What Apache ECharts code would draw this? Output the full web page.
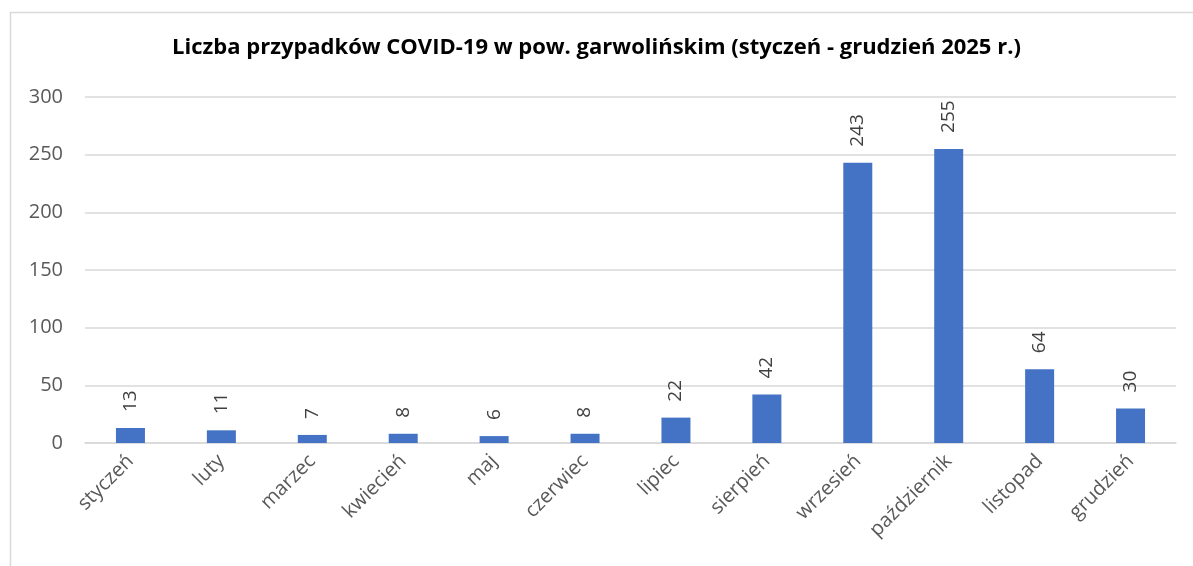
<!DOCTYPE html>
<html>
<head>
<meta charset="utf-8">
<script src="https://cdn.jsdelivr.net/npm/echarts@6/dist/echarts.min.js"></script>
<style>
html, body { margin: 0; padding: 0; background: #fff; }
#main { width: 1193px; height: 566px; }
</style>
</head>
<body>
<div id="main"></div>
<script>
var months = ['styczeń', 'luty', 'marzec', 'kwiecień', 'maj', 'czerwiec', 'lipiec', 'sierpień', 'wrzesień', 'październik', 'listopad', 'grudzień'];
var cases = [13, 11, 7, 8, 6, 8, 22, 42, 243, 255, 64, 30];

var myChart = echarts.init(document.getElementById('main'));
var fontName = 'Open Sans';

option = {
    backgroundColor: '#fff',
    textStyle: { fontFamily: fontName },
    title: {
        text: 'Liczba przypadków COVID-19 w pow. garwolińskim (styczeń - grudzień 2025 r.)',
        left: 'center',
        top: 32,
        textStyle: { fontFamily: fontName, fontSize: 22, fontWeight: 'bold', color: '#000' }
    },
    graphic: [{
        type: 'rect',
        left: 8,
        top: 10,
        shape: { width: 1300, height: 700 },
        style: { fill: 'none', stroke: '#d9d9d9', lineWidth: 1.5 },
        silent: true
    }],
    grid: { left: 85, right: 17, top: 97, bottom: 123 },
    xAxis: {
        type: 'category',
        data: months,
        axisLine: { lineStyle: { color: '#d9d9d9', width: 1.5 } },
        axisTick: { show: false },
        axisLabel: {
            rotate: 45,
            interval: 0,
            margin: 15,
            fontSize: 20,
            color: '#595959',
            fontFamily: fontName
        }
    },
    yAxis: {
        type: 'value',
        min: 0,
        max: 300,
        interval: 50,
        axisLine: { show: false },
        axisTick: { show: false },
        splitLine: { lineStyle: { color: '#d9d9d9', width: 1.5 } },
        axisLabel: { fontSize: 20, color: '#595959', margin: 22, fontFamily: fontName }
    },
    series: [{
        type: 'bar',
        data: cases,
        barWidth: 29,
        itemStyle: { color: '#4472C4' },
        label: {
            show: true,
            position: 'top',
            rotate: 90,
            align: 'left',
            verticalAlign: 'middle',
            distance: 16,
            fontSize: 19,
            color: '#404040',
            fontFamily: fontName
        }
    }]
};

myChart.setOption(option);
</script>
</body>
</html>
